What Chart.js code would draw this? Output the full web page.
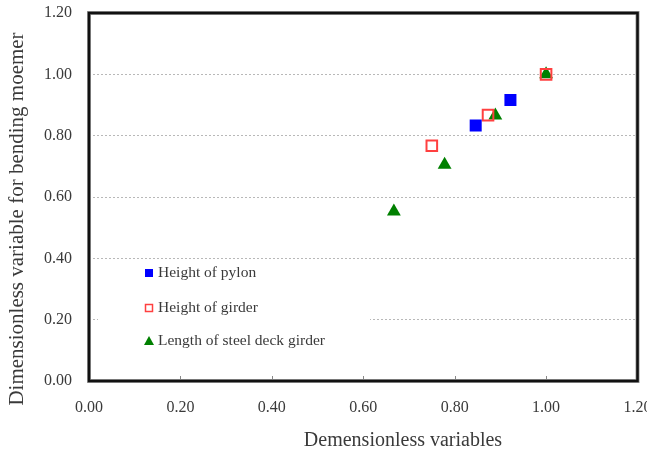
<!DOCTYPE html>
<html>
<head>
<meta charset="utf-8">
<script src="https://cdn.jsdelivr.net/npm/chart.js@4/dist/chart.umd.min.js"></script>
<style>
  html, body { margin: 0; padding: 0; background: #fff; }
  #wrap { width: 647px; height: 454px; }
</style>
</head>
<body>
<div id="wrap"><canvas id="scatterChart" width="647" height="454"></canvas></div>
<script>
const seriesNames = ["Height of pylon", "Height of girder", "Length of steel deck girder"];

const pylonX = [0.846, 0.922];
const pylonY = [0.833, 0.916];

const girderX = [0.750, 0.873, 1.000];
const girderY = [0.767, 0.867, 1.000];

const deckX = [0.667, 0.778, 0.889, 1.000];
const deckY = [0.553, 0.705, 0.866, 1.000];

const tickValues = [0, 0.2, 0.4, 0.6, 0.8, 1.0, 1.2];

const xTitle = "Demensionless variables";
const yTitle = "Dimensionless variable for bending moemer";

function toPoints(xs, ys) {
    return xs.map((x, i) => ({ x: x, y: ys[i] }));
}

const serif = "'Liberation Serif', 'Times New Roman', serif";
const textColor = "#3a3a3a";

// frame, inward ticks, in-plot legend and axis titles
const decorations = {
    id: "decorations",
    afterDatasetsDraw(chart) {
        const ctx = chart.ctx;
        const area = chart.chartArea;
        const xs = chart.scales.x;

        ctx.save();

        // legend box (white, hides grid behind it)
        ctx.fillStyle = "#fff";
        ctx.fillRect(98, 262, 272, 100);

        const rows = [273, 308, 341];
        ctx.font = "15.5px " + serif;
        ctx.fillStyle = textColor;
        ctx.textBaseline = "middle";
        rows.forEach((ry, i) => {
            ctx.fillText(seriesNames[i], 158, ry);
        });

        // blue filled square
        ctx.fillStyle = "#0000ff";
        ctx.fillRect(145, rows[0] - 4, 8, 8);
        // red hollow square
        ctx.strokeStyle = "#ff4040";
        ctx.lineWidth = 1.5;
        ctx.fillStyle = "#fff";
        ctx.fillRect(145, rows[1] - 4, 8, 8);
        ctx.strokeRect(145.5, rows[1] - 3.5, 7, 7);
        // green triangle
        ctx.fillStyle = "#008000";
        ctx.beginPath();
        ctx.moveTo(149, rows[2] - 5);
        ctx.lineTo(154, rows[2] + 4);
        ctx.lineTo(144, rows[2] + 4);
        ctx.closePath();
        ctx.fill();

        // inward ticks on bottom axis
        ctx.strokeStyle = "#888";
        ctx.lineWidth = 1;
        tickValues.forEach(v => {
            const px = Math.round(xs.getPixelForValue(v)) + 0.5;
            ctx.beginPath();
            ctx.moveTo(px, area.bottom);
            ctx.lineTo(px, area.bottom - 5);
            ctx.stroke();
        });

        // frame
        ctx.strokeStyle = "#9a9a9a";
        ctx.lineWidth = 4;
        ctx.strokeRect(area.left, area.top, area.right - area.left, area.bottom - area.top);
        ctx.strokeStyle = "#111";
        ctx.lineWidth = 2.5;
        ctx.strokeRect(area.left, area.top, area.right - area.left, area.bottom - area.top);

        // axis titles
        ctx.fillStyle = textColor;
        ctx.textAlign = "center";
        ctx.textBaseline = "middle";
        ctx.font = "20px " + serif;
        ctx.fillText(xTitle, 403, 441);

        ctx.translate(17, 219);
        ctx.rotate(-Math.PI / 2);
        ctx.font = "21px " + serif;
        ctx.fillText(yTitle, 0, 0);

        ctx.restore();
    }
};

const ctx = document.getElementById("scatterChart").getContext("2d");

new Chart(ctx, {
    type: "scatter",
    data: {
        datasets: [
            {
                label: seriesNames[0],
                data: toPoints(pylonX, pylonY),
                pointStyle: "rect",
                pointRadius: 8.5,
                pointHoverRadius: 8.5,
                backgroundColor: "#0000ff",
                borderColor: "#0000ff",
                borderWidth: 0
            },
            {
                label: seriesNames[1],
                data: toPoints(girderX, girderY),
                pointStyle: "rect",
                pointRadius: 7.5,
                pointHoverRadius: 7.5,
                backgroundColor: "rgba(255,255,255,0)",
                borderColor: "#ff4040",
                borderWidth: 2
            },
            {
                label: seriesNames[2],
                data: toPoints(deckX, deckY),
                pointStyle: "triangle",
                pointRadius: 8,
                pointHoverRadius: 8,
                backgroundColor: "#008000",
                borderColor: "#008000",
                borderWidth: 0
            }
        ]
    },
    options: {
        responsive: false,
        animation: false,
        events: [],
        layout: {
            padding: { top: 13, right: 8, left: 0, bottom: 0 }
        },
        plugins: {
            legend: { display: false },
            tooltip: { enabled: false }
        },
        scales: {
            x: {
                type: "linear",
                min: 0,
                max: 1.2,
                afterFit(scale) {
                    scale.height = 73;
                    scale.paddingLeft = 0;
                    scale.paddingRight = 0;
                },
                afterBuildTicks(scale) {
                    scale.ticks = tickValues.map(v => ({ value: v }));
                },
                grid: { display: false, drawTicks: false },
                border: { display: false },
                ticks: {
                    padding: 17,
                    color: textColor,
                    font: { family: serif, size: 16 },
                    maxRotation: 0,
                    callback: v => Number(v).toFixed(2)
                }
            },
            y: {
                type: "linear",
                min: 0,
                max: 1.2,
                afterFit(scale) {
                    scale.width = 89;
                    scale.paddingTop = 0;
                    scale.paddingBottom = 0;
                },
                afterBuildTicks(scale) {
                    scale.ticks = tickValues.map(v => ({ value: v }));
                },
                grid: {
                    drawTicks: false,
                    lineWidth: 1,
                    color: c => (c.tick && (c.tick.value === 0 || c.tick.value === 1.2)) ? "rgba(0,0,0,0)" : "#b8b8b8"
                },
                border: { display: false, dash: [2, 2] },
                ticks: {
                    padding: 17,
                    color: textColor,
                    font: { family: serif, size: 16 },
                    callback: v => Number(v).toFixed(2)
                }
            }
        }
    },
    plugins: [decorations]
});
</script>
</body>
</html>
